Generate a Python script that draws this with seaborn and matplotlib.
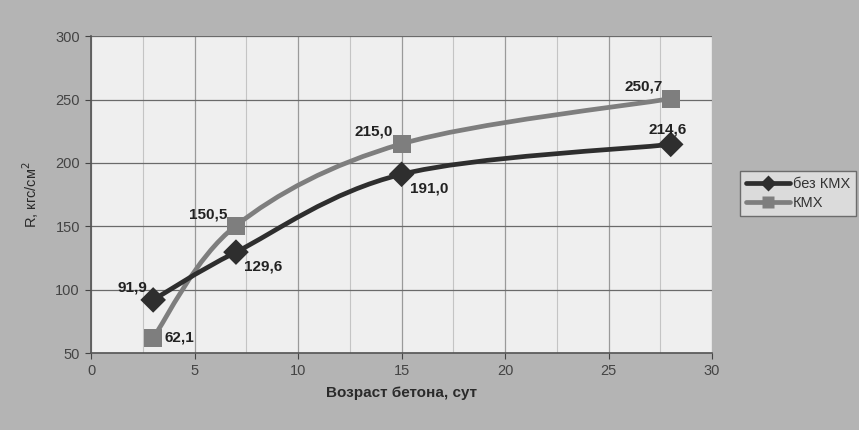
import numpy as np
import pandas as pd
import seaborn as sns
import matplotlib.pyplot as plt
from matplotlib.path import Path
from matplotlib.patches import PathPatch
from matplotlib.lines import Line2D

# Data
age_days = [3, 7, 15, 28]
r_without = [91.9, 129.6, 191.0, 214.6]
r_with = [62.1, 150.5, 215.0, 250.7]
label_without = "без КМХ"
label_with = "КМХ"

df = pd.DataFrame({
    "age": age_days * 2,
    "R": r_without + r_with,
    "series": [label_without] * 4 + [label_with] * 4,
})

sns.set_style("white")
plt.rcParams['font.family'] = ['Liberation Sans', 'DejaVu Sans']

fig = plt.figure(figsize=(8.59, 4.30), dpi=100)
fig.patch.set_facecolor('#b4b4b4')
ax = fig.add_axes([0.106, 0.179, 0.723, 0.737])
ax.set_facecolor('#efefef')

colors = {label_without: '#2e2e2e', label_with: '#7e7e7e'}
markers = {label_without: 'D', label_with: 's'}


def smooth_path(xs, ys):
    # Excel-style smoothed line: cubic Bezier segments through the points
    pts = np.column_stack([xs, ys]).astype(float)
    verts = [pts[0]]
    codes = [Path.MOVETO]
    n = len(pts)
    for i in range(n - 1):
        p0 = pts[i - 1] if i > 0 else pts[i]
        p1 = pts[i]
        p2 = pts[i + 1]
        p3 = pts[i + 2] if i + 2 < n else pts[i + 1]
        c1 = p1 + (p2 - p0) / 6.0
        c2 = p2 - (p3 - p1) / 6.0
        verts += [c1, c2, p2]
        codes += [Path.CURVE4] * 3
    return Path(verts, codes)


for name, ys in [(label_with, r_with), (label_without, r_without)]:
    patch = PathPatch(smooth_path(age_days, ys), facecolor='none',
                      edgecolor=colors[name], lw=3.4, zorder=3)
    ax.add_patch(patch)

sns.scatterplot(data=df, x="age", y="R", hue="series", style="series",
                palette=colors, markers=markers, s=170, edgecolor='none',
                legend=False, ax=ax, zorder=4)

ax.set_xlim(0, 30)
ax.set_ylim(50, 300)
ax.set_xticks(range(0, 31, 5))
ax.set_yticks(range(50, 301, 50))
ax.set_xticks(np.arange(0, 30.1, 2.5), minor=True)
ax.grid(True, which='major', axis='y', color='#6a6a6a', lw=0.9)
ax.grid(True, which='major', axis='x', color='#9a9a9a', lw=0.9)
ax.grid(True, which='minor', axis='x', color='#c4c4c4', lw=0.8)
ax.set_axisbelow(True)
for s in ['top', 'right']:
    ax.spines[s].set_visible(False)
for s in ['left', 'bottom']:
    ax.spines[s].set_color('#555555')
    ax.spines[s].set_linewidth(1.2)
ax.tick_params(axis='both', labelsize=10.5, colors='#444444', length=4,
               direction='out', left=True, bottom=True, pad=4)
ax.tick_params(axis='x', which='minor', length=0)

ax.set_xlabel("Возраст бетона, сут", fontsize=11, fontweight='bold',
              color='#2a2a2a', labelpad=6)
ax.set_ylabel("R, кгс/см$^2$", fontsize=10.5, color='#2a2a2a', labelpad=10)

# Data labels
offsets = {
    label_without: [(-4, 9, 'right'), (6, -10, 'left'), (6, -10, 'left'), (-2, 11, 'center')],
    label_with: [(8, 0, 'left'), (-6, 8, 'right'), (-6, 9, 'right'), (-6, 9, 'right')],
}
for name, ys in [(label_without, r_without), (label_with, r_with)]:
    for (x, y), (dx, dy, ha) in zip(zip(age_days, ys), offsets[name]):
        ax.annotate(f"{y:.1f}".replace('.', ','), (x, y), xytext=(dx, dy),
                    textcoords='offset points', ha=ha, va='center',
                    fontsize=11, fontweight='bold', color='#222222', zorder=5)

handles = [Line2D([], [], color=colors[n], marker=markers[n], lw=3.4,
                  markersize=8, markeredgecolor='none')
           for n in [label_without, label_with]]
leg = fig.legend(handles, [label_without, label_with], loc='center left',
                 bbox_to_anchor=(0.853, 0.55), fontsize=10.5, frameon=True,
                 fancybox=False, handlelength=3.0, handletextpad=0.2,
                 borderpad=0.4, labelspacing=0.3)
leg.get_frame().set_edgecolor('#555555')
leg.get_frame().set_facecolor('#e6e6e6')
leg.get_frame().set_linewidth(1.0)
for t in leg.get_texts():
    t.set_color('#333333')

fig.savefig("out.png", dpi=100, facecolor=fig.get_facecolor())
